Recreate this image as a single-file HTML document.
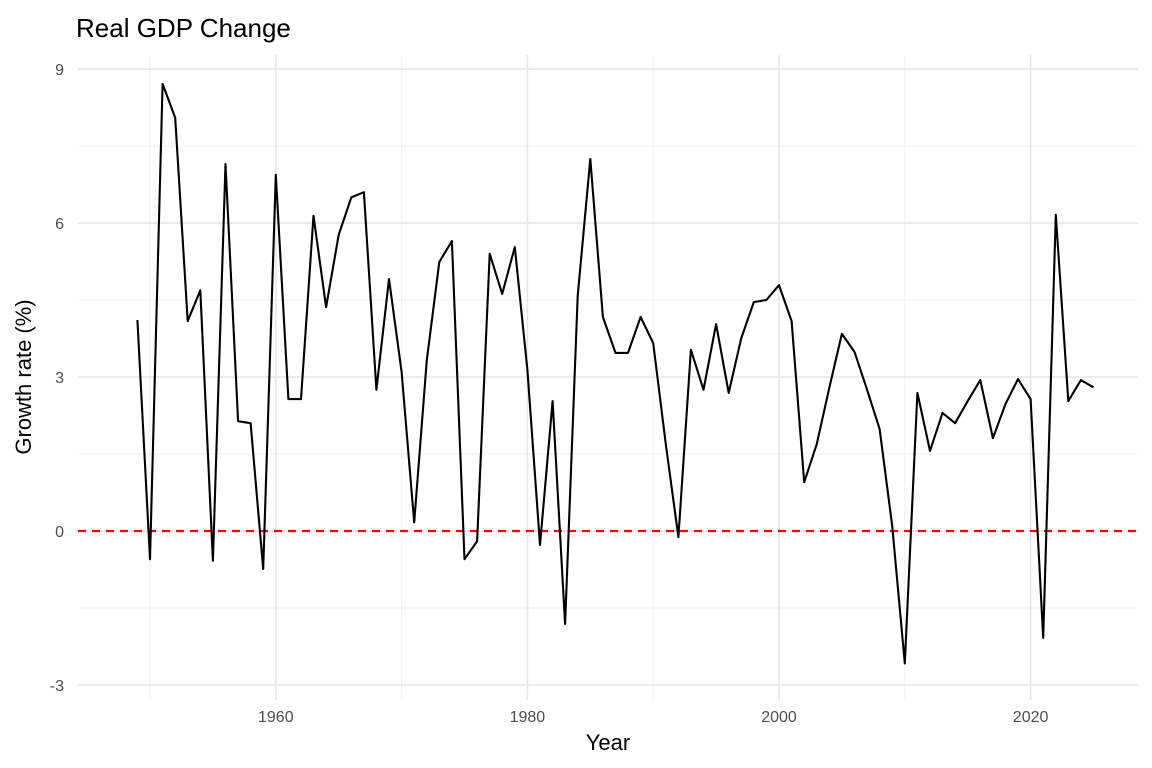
<!DOCTYPE html>
<html><head><meta charset="utf-8"><style>
html,body{margin:0;padding:0;background:#fff;}
svg{display:block;font-family:"Liberation Sans",Arial,sans-serif;}
</style></head><body>
<svg id="chart" width="1152" height="768">
<text x="76" y="37" font-size="26" fill="#000">Real GDP Change</text>
<g id="grid"></g>
<g id="axes"></g>
<g id="marks"></g>
<text x="608" y="750" font-size="22" text-anchor="middle" fill="#000">Year</text>
<text transform="translate(31,377) rotate(-90)" font-size="22" text-anchor="middle" fill="#000">Growth rate (%)</text>
</svg>
<script>
const years = [];
for (let y = 1949; y <= 2025; y++) years.push(y);
const growth = [4.11,-0.55,8.71,8.05,4.09,4.69,-0.58,7.15,2.14,2.10,-0.74,6.94,2.57,2.57,6.14,4.36,5.77,6.50,6.60,2.75,4.91,3.10,0.17,3.33,5.24,5.65,-0.55,-0.20,5.40,4.62,5.53,3.14,-0.27,2.53,-1.81,4.58,7.25,4.17,3.47,3.47,4.17,3.66,1.69,-0.12,3.53,2.75,4.03,2.69,3.76,4.46,4.50,4.79,4.09,0.95,1.69,2.79,3.84,3.49,2.75,1.99,0.10,-2.58,2.69,1.56,2.30,2.10,2.53,2.94,1.81,2.47,2.96,2.57,-2.08,6.16,2.53,2.94,2.80];
const xTicks = [1960,1980,2000,2020];
const xMinor = [1950,1970,1990,2010];
const yTicks = [-3,0,3,6,9];
const yMinor = [-1.5,1.5,4.5,7.5];
const refLine = [0];

const NS = "http://www.w3.org/2000/svg";
const X0 = 78, X1 = 1138, Y0 = 55, Y1 = 700;
const xs = y => 150 + (y - 1950) * 12.58;
const ys = v => 531 - v * 51.33;
function mk(tag, attrs, parent) {
  const e = document.createElementNS(NS, tag);
  for (const k in attrs) e.setAttribute(k, attrs[k]);
  parent.appendChild(e);
  return e;
}
const grid = document.getElementById('grid'), axes = document.getElementById('axes'), marks = document.getElementById('marks');
yMinor.forEach(v => {
  const l = mk('line', {x1:X0, x2:X1, y1:ys(v), y2:ys(v), stroke:'#f0f0f0', 'stroke-width':1}, grid);
  
  
});
xMinor.forEach(v => {
  const l = mk('line', {x1:xs(v), x2:xs(v), y1:Y0, y2:Y1, stroke:'#f0f0f0', 'stroke-width':1}, grid);
  
  
});
yTicks.forEach(v => {
  const l = mk('line', {x1:X0, x2:X1, y1:ys(v), y2:ys(v), stroke:'#e6e6e6', 'stroke-width':1.6}, grid);
  
  
  const t = mk('text', {x:64, y:ys(v)+6, 'font-size':16, 'text-anchor':'end', fill:'#4d4d4d'}, axes);
  t.textContent = v;
  
  
});
xTicks.forEach(v => {
  const l = mk('line', {x1:xs(v), x2:xs(v), y1:Y0, y2:Y1, stroke:'#e6e6e6', 'stroke-width':1.6}, grid);
  
  
  const t = mk('text', {x:xs(v), y:722, 'font-size':16, 'text-anchor':'middle', fill:'#4d4d4d'}, axes);
  t.textContent = v;
  
  
});
refLine.forEach(v => {
  const l = mk('line', {x1:X0, x2:X1, y1:ys(v), y2:ys(v), stroke:'#ff0000', 'stroke-width':2.2, 'stroke-dasharray':'8,6'}, marks);
  
  
});
const d = years.map((y,i) => (i ? 'L' : 'M') + xs(y).toFixed(1) + ',' + ys(growth[i]).toFixed(1)).join('');
const p = mk('path', {d:d, fill:'none', stroke:'#000', 'stroke-width':2.1, 'stroke-linejoin':'round'}, marks);


</script>
</body></html>
